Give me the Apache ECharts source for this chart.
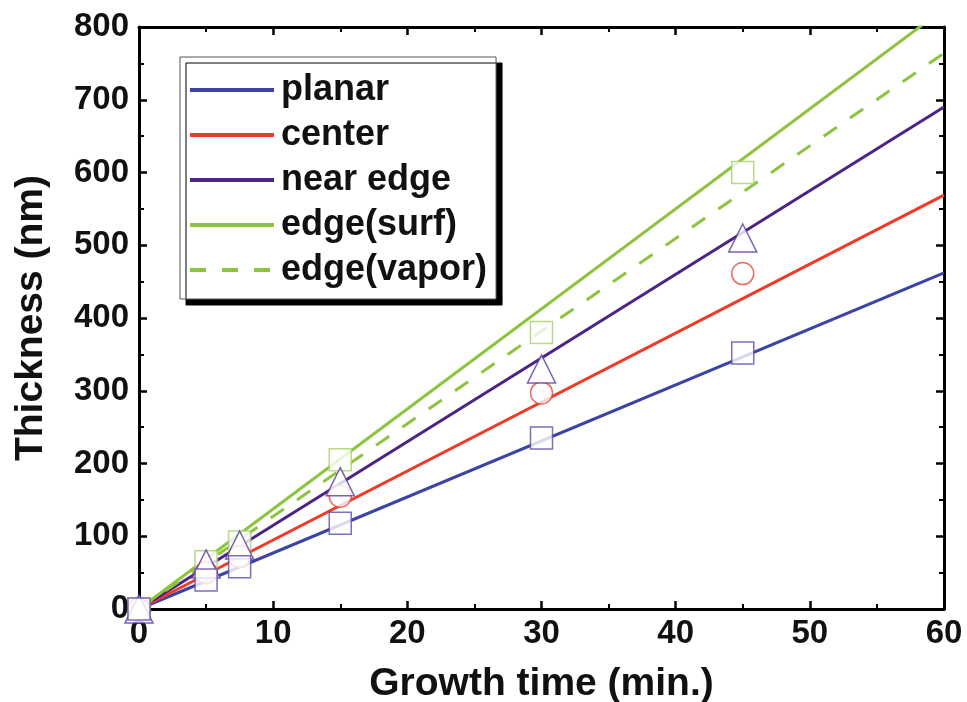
<!DOCTYPE html>
<html>
<head>
<meta charset="utf-8">
<script src="https://cdn.jsdelivr.net/npm/echarts@6/dist/echarts.min.js"></script>
<style>html,body{margin:0;padding:0;background:#fff;}#c{width:967px;height:702px;}</style>
</head>
<body>
<div id="c"></div>
<script>
// Measured points: growth time (min) vs thickness (nm)
var times = [0, 5, 7.5, 15, 30, 45];
var planarPts = [0, 40, 58, 118, 235, 352];
var centerPts = [0, 50, 72, 155, 297, 461];
var nearEdgePts = [0, 62, 88, 175, 330, 510];
var edgePts = [0, 65, 92, 205, 380, 600];

// Fitted lines (through origin), value at t = 0 and t = 60
var fitTimes = [0, 60];
var planarFit = [0, 462];
var centerFit = [0, 569];
var nearEdgeFit = [0, 690];
var edgeSurfFit = [0, 825];
var edgeVaporFit = [0, 764];

var xTicks = [0, 10, 20, 30, 40, 50, 60];
var yTicks = [0, 100, 200, 300, 400, 500, 600, 700, 800];

function pairs(xs, ys) { return xs.map(function (x, i) { return [x, ys[i]]; }); }

var FONT = '"Liberation Sans", Arial, sans-serif';
var C_BLUE = '#3b44a6', C_RED = '#f03a26', C_PURPLE = '#4a2585', C_GREEN = '#8cc43e';

var chart = echarts.init(document.getElementById('c'));

function axisCommon(showLabels) {
  return {
    axisLine: { show: true, onZero: false, lineStyle: { color: '#000', width: 3 } },
    axisTick: { show: true, inside: true, length: 8, lineStyle: { color: '#000', width: 2.5 } },
    minorTick: { show: true, splitNumber: 2, length: 5, lineStyle: { color: '#000', width: 2 } },
    splitLine: { show: false },
    axisLabel: { show: showLabels, color: '#111', fontFamily: FONT, fontWeight: 'bold', fontSize: 33 }
  };
}

var xb = Object.assign(axisCommon(true), {
  type: 'value', min: xTicks[0], max: xTicks[xTicks.length - 1], interval: 10, position: 'bottom',
  name: 'Growth time (min.)', nameLocation: 'middle', nameGap: 56,
  nameTextStyle: { color: '#111', fontFamily: FONT, fontWeight: 'bold', fontSize: 39 }
});
xb.axisLabel.margin = 8;
var xt = Object.assign(axisCommon(false), {
  type: 'value', min: xTicks[0], max: xTicks[xTicks.length - 1], interval: 10, position: 'top'
});
var yl = Object.assign(axisCommon(true), {
  type: 'value', min: yTicks[0], max: yTicks[yTicks.length - 1], interval: 100, position: 'left',
  name: 'Thickness (nm)', nameLocation: 'middle', nameGap: 88,
  nameTextStyle: { color: '#111', fontFamily: FONT, fontWeight: 'bold', fontSize: 39 }
});
yl.axisLabel.margin = 10;
var yr = Object.assign(axisCommon(false), {
  type: 'value', min: yTicks[0], max: yTicks[yTicks.length - 1], interval: 100, position: 'right'
});

function fitLine(name, ys, color, dashed) {
  return {
    name: name, type: 'line', xAxisIndex: 0, yAxisIndex: 0,
    data: pairs(fitTimes, ys), symbol: 'none', clip: true, z: 2,
    lineStyle: { color: color, width: 3, type: dashed ? [16, 16] : 'solid' },
    itemStyle: { color: color }
  };
}
function pts(name, ys, symbol, size, color) {
  return {
    name: name, type: 'scatter', xAxisIndex: 0, yAxisIndex: 0,
    data: pairs(times, ys), symbol: symbol, symbolSize: size, z: 5,
    itemStyle: { color: '#fff', borderColor: color, borderWidth: 1.5 }
  };
}

chart.setOption({
  animation: false,
  backgroundColor: '#fff',
  grid: { left: 139, right: 23, top: 27, bottom: 93, containLabel: false, outerBoundsMode: 'none' },
  xAxis: [xb, xt],
  yAxis: [yl, yr],
  legend: {
    data: ['planar', 'center', 'near edge', 'edge(surf)', 'edge(vapor)'],
    orient: 'vertical', left: 180, top: 57,
    backgroundColor: '#fff', borderColor: '#555', borderWidth: 1,
    shadowColor: '#000', shadowOffsetX: 6, shadowOffsetY: 6, shadowBlur: 0,
    padding: [15, 9, 11, 8],
    itemWidth: 84, itemHeight: 14, itemGap: 9,
    itemStyle: { opacity: 0 },
    lineStyle: { width: 4 },
    textStyle: { color: '#111', fontFamily: FONT, fontWeight: 'bold', fontSize: 36, padding: [0, 0, 0, 2] }
  },
  series: [
    fitLine('planar', planarFit, C_BLUE, false),
    fitLine('center', centerFit, C_RED, false),
    fitLine('near edge', nearEdgeFit, C_PURPLE, false),
    fitLine('edge(surf)', edgeSurfFit, C_GREEN, false),
    fitLine('edge(vapor)', edgeVaporFit, C_GREEN, true),
    pts('edge pts', edgePts, 'rect', 22, '#a6d06a'),
    pts('center pts', centerPts, 'circle', 22, '#e8483c'),
    pts('near edge pts', nearEdgePts, 'triangle', 28, '#5a3a9a'),
    pts('planar pts', planarPts, 'rect', 22, '#5a48b0')
  ]
});
</script>
</body>
</html>
